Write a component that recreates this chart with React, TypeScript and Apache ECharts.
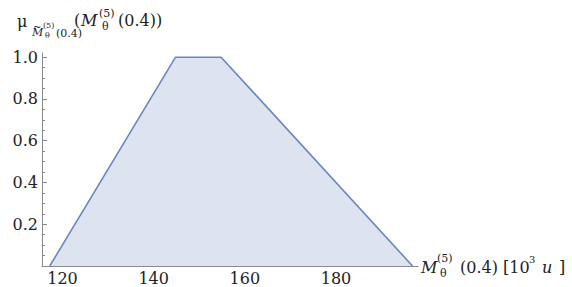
import React, { useEffect, useRef } from "react";
import * as echarts from "echarts";

const membershipX = [117.2, 144.8, 154.8, 196.8];
const membershipY = [0, 1, 1, 0];
const xTickLabels = [120, 140, 160, 180];
const xMinorTicks = [120, 125, 130, 135, 140, 145, 150, 155, 160, 165, 170, 175, 180, 185, 190, 195];
const yTickLabels = [0.2, 0.4, 0.6, 0.8, 1.0];
const yMinorTicks = [0.05, 0.1, 0.15, 0.2, 0.25, 0.3, 0.35, 0.4, 0.45, 0.5, 0.55, 0.6, 0.65, 0.7, 0.75, 0.8, 0.85, 0.9, 0.95, 1.0];

const FONT = "DejaVu Serif";
const AXIS_COLOR = "#8a8a8a";

export default function App() {
  const ref = useRef<HTMLDivElement>(null);
  useEffect(() => {
    document.body.style.margin = "0";
    if (!ref.current) return;
    const chart = echarts.init(ref.current, null, { renderer: "svg" });
    const data = membershipX.map((x, i) => [x, membershipY[i]]);
    const t = (x: number, y: number, text: string, size: number, italic = false) => ({
      type: "text",
      x,
      y,
      style: {
        text,
        fontFamily: FONT,
        fontSize: size,
        fontStyle: italic ? "italic" : "normal",
        fill: "#222",
        textVerticalAlign: "middle",
        textAlign: "left",
      },
    });
    chart.setOption({
      animation: false,
      textStyle: { fontFamily: FONT },
      grid: { left: 42, right: 154, top: 53, bottom: 21 },
      xAxis: [
        {
          type: "value",
          min: 115.5,
          max: 198,
          axisLine: { show: true, lineStyle: { color: AXIS_COLOR, width: 1 } },
          axisTick: { show: true, inside: true, length: 5, customValues: xTickLabels, lineStyle: { color: AXIS_COLOR } },
          axisLabel: { customValues: xTickLabels, fontFamily: FONT, fontSize: 16, color: "#222", margin: 4 },
          splitLine: { show: false },
        },
        {
          type: "value",
          min: 115.5,
          max: 198,
          position: "bottom",
          axisLine: { show: false },
          axisTick: { show: true, inside: true, length: 3, customValues: xMinorTicks, lineStyle: { color: AXIS_COLOR } },
          axisLabel: { show: false },
          splitLine: { show: false },
        },
      ],
      yAxis: [
        {
          type: "value",
          min: 0,
          max: 1.02,
          axisLine: { show: true, lineStyle: { color: AXIS_COLOR, width: 1 } },
          axisTick: { show: true, inside: true, length: 5, customValues: yTickLabels, lineStyle: { color: AXIS_COLOR } },
          axisLabel: {
            customValues: yTickLabels,
            formatter: (v: number) => v.toFixed(1),
            fontFamily: FONT,
            fontSize: 16,
            color: "#222",
            margin: 4,
          },
          splitLine: { show: false },
        },
        {
          type: "value",
          min: 0,
          max: 1.02,
          position: "left",
          axisLine: { show: false },
          axisTick: { show: true, inside: true, length: 3, customValues: yMinorTicks, lineStyle: { color: AXIS_COLOR } },
          axisLabel: { show: false },
          splitLine: { show: false },
        },
      ],
      series: [
        {
          type: "line",
          data,
          xAxisIndex: 0,
          yAxisIndex: 0,
          symbol: "none",
          lineStyle: { color: "#6a88c0", width: 1.6 },
          areaStyle: { color: "#dde3ef", opacity: 1 },
        },
      ],
      graphic: [
        t(17, 21, "μ", 16),
        t(33, 26, "~", 10, true),
        t(32, 32, "M", 11, true),
        t(43, 25, "(5)", 8),
        t(45, 35, "θ", 8),
        t(56, 33, "(0.4)", 11),
        t(74, 20, "(", 16),
        t(81, 20, "M", 16, true),
        t(99, 13, "(5)", 11),
        t(102, 26, "θ", 11),
        t(118, 20, "(0.4))", 16),
        t(421, 267, "M", 16, true),
        t(437, 258, "(5)", 11),
        t(440, 273, "θ", 11),
        t(460, 267, "(0.4)", 16),
        t(503, 267, "[10", 16),
        t(529, 259, "3", 10),
        t(542, 267, "u", 16, true),
        t(559, 267, "]", 16),
      ],
    });
    return () => chart.dispose();
  }, []);
  return <div ref={ref} style={{ width: 572, height: 287 }} />;
}
